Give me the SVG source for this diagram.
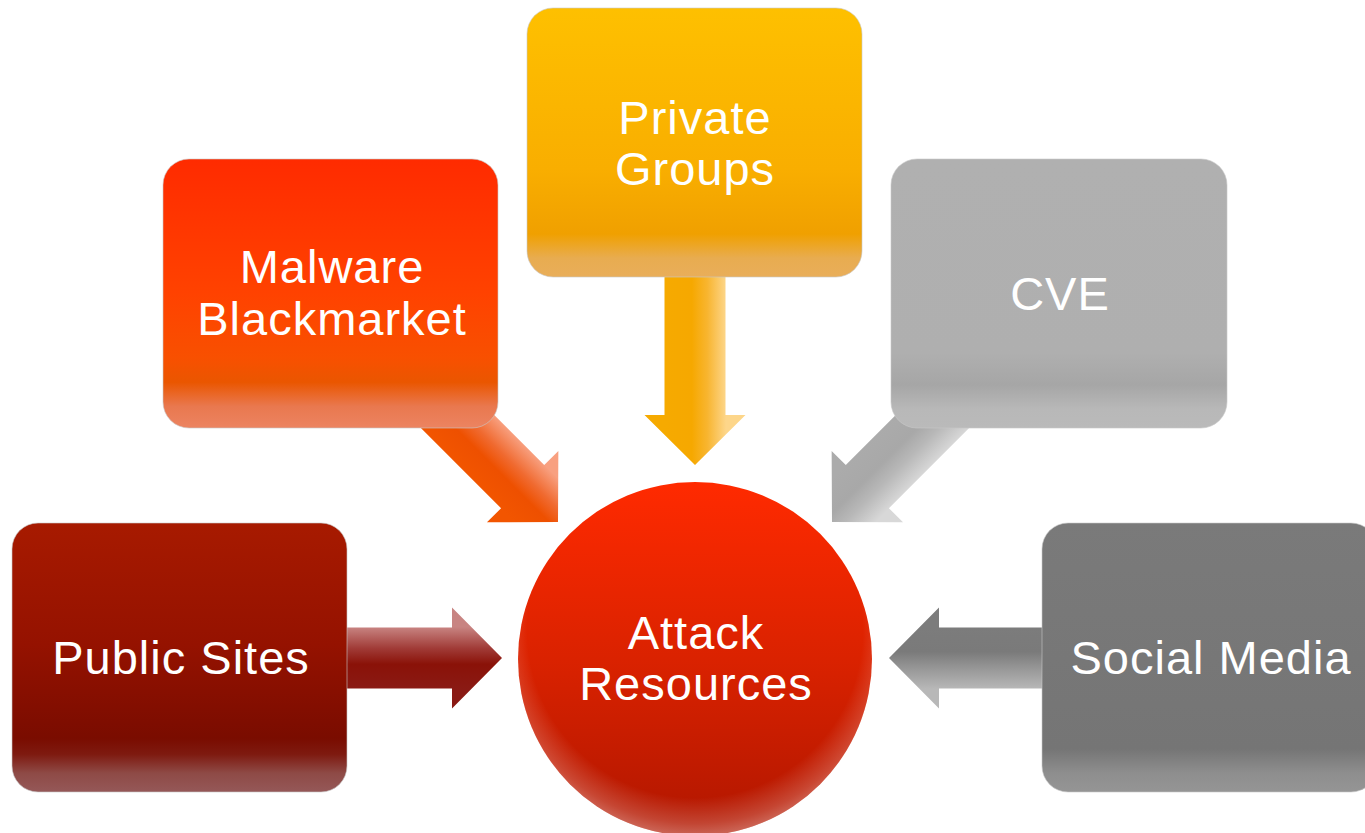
<svg xmlns="http://www.w3.org/2000/svg" width="1365" height="833" viewBox="0 0 1365 833">
  <style>
    .lbl { fill: #ffffff; font-family: "Liberation Sans", Arial, sans-serif; font-size: 47px; letter-spacing: 1px; text-anchor: middle; }
    .box { stroke: #c8c8c8; stroke-opacity: 0.6; stroke-width: 1; }
  </style>
  <defs>
    <linearGradient id="gPublic" x1="0" y1="0" x2="0" y2="1">
      <stop offset="0" stop-color="#A71A00"/>
      <stop offset="0.45" stop-color="#951200"/>
      <stop offset="0.8" stop-color="#7A0C00"/>
      <stop offset="0.86" stop-color="#7E1A10"/>
      <stop offset="0.93" stop-color="#8E4A46"/>
      <stop offset="1" stop-color="#955858"/>
    </linearGradient>
    <linearGradient id="gMalware" x1="0" y1="0" x2="0" y2="1">
      <stop offset="0" stop-color="#FF2B00"/>
      <stop offset="0.5" stop-color="#FF4200"/>
      <stop offset="0.74" stop-color="#F85000"/>
      <stop offset="0.83" stop-color="#EA5600"/>
      <stop offset="0.92" stop-color="#E9784F"/>
      <stop offset="1" stop-color="#EC8461"/>
    </linearGradient>
    <linearGradient id="gPrivate" x1="0" y1="0" x2="0" y2="1">
      <stop offset="0" stop-color="#FEC000"/>
      <stop offset="0.6" stop-color="#F9AE00"/>
      <stop offset="0.84" stop-color="#F0A000"/>
      <stop offset="0.93" stop-color="#E8AC50"/>
      <stop offset="1" stop-color="#E9AE5A"/>
    </linearGradient>
    <linearGradient id="gCve" x1="0" y1="0" x2="0" y2="1">
      <stop offset="0" stop-color="#B0B0B0"/>
      <stop offset="0.72" stop-color="#AFAFAF"/>
      <stop offset="0.84" stop-color="#A6A6A6"/>
      <stop offset="0.93" stop-color="#B8B8B8"/>
      <stop offset="1" stop-color="#BABABA"/>
    </linearGradient>
    <linearGradient id="gSocial" x1="0" y1="0" x2="0" y2="1">
      <stop offset="0" stop-color="#7A7A7A"/>
      <stop offset="0.84" stop-color="#757575"/>
      <stop offset="0.93" stop-color="#8E8E8E"/>
      <stop offset="1" stop-color="#959595"/>
    </linearGradient>
    <linearGradient id="gCircle" x1="0" y1="0" x2="0" y2="1">
      <stop offset="0" stop-color="#FF2A00"/>
      <stop offset="0.5" stop-color="#DA2200"/>
      <stop offset="1" stop-color="#B01600"/>
    </linearGradient>
    <radialGradient id="gRim" cx="695" cy="630" r="215" gradientUnits="userSpaceOnUse">
      <stop offset="0" stop-color="#ffffff" stop-opacity="0"/>
      <stop offset="0.78" stop-color="#ffffff" stop-opacity="0"/>
      <stop offset="0.9" stop-color="#ffffff" stop-opacity="0.2"/>
      <stop offset="1" stop-color="#ffffff" stop-opacity="0.45"/>
    </radialGradient>
    <linearGradient id="aPublic" x1="0" y1="-31" x2="0" y2="31" gradientUnits="userSpaceOnUse">
      <stop offset="0" stop-color="#C88482"/>
      <stop offset="0.35" stop-color="#A03A36"/>
      <stop offset="0.6" stop-color="#8A1208"/>
      <stop offset="1" stop-color="#8A1A14"/>
    </linearGradient>
    <linearGradient id="aPrivate" x1="0" y1="-31" x2="0" y2="31" gradientUnits="userSpaceOnUse">
      <stop offset="0" stop-color="#FDD68A"/>
      <stop offset="0.3" stop-color="#F8B530"/>
      <stop offset="0.55" stop-color="#F6A800"/>
      <stop offset="1" stop-color="#F6AA00"/>
    </linearGradient>
    <linearGradient id="aMalware" x1="0" y1="-31" x2="0" y2="31" gradientUnits="userSpaceOnUse">
      <stop offset="0" stop-color="#F8A080"/>
      <stop offset="0.35" stop-color="#F06A30"/>
      <stop offset="0.6" stop-color="#EE5000"/>
      <stop offset="1" stop-color="#F25500"/>
    </linearGradient>
    <linearGradient id="aCve" x1="0" y1="-31" x2="0" y2="31" gradientUnits="userSpaceOnUse">
      <stop offset="0" stop-color="#D8D8D8"/>
      <stop offset="0.35" stop-color="#B8B8B8"/>
      <stop offset="0.6" stop-color="#A8A8A8"/>
      <stop offset="1" stop-color="#ABABAB"/>
    </linearGradient>
    <linearGradient id="aSocial" x1="0" y1="-31" x2="0" y2="31" gradientUnits="userSpaceOnUse">
      <stop offset="0" stop-color="#B8B8B8"/>
      <stop offset="0.35" stop-color="#959595"/>
      <stop offset="0.6" stop-color="#7A7A7A"/>
      <stop offset="1" stop-color="#7C7C7C"/>
    </linearGradient>
  </defs>

  <g id="connectors">
    <path id="arrow-public" transform="translate(502,658)" fill="url(#aPublic)" d="M -160,-30.5 L -50,-30.5 L -50,-50.5 L 0,0 L -50,50.5 L -50,30.5 L -160,30.5 Z"/>
    <path id="arrow-social" transform="translate(889,658) rotate(180)" fill="url(#aSocial)" d="M -160,-30.5 L -50,-30.5 L -50,-50.5 L 0,0 L -50,50.5 L -50,30.5 L -160,30.5 Z"/>
    <path id="arrow-private" transform="translate(695,465) rotate(90)" fill="url(#aPrivate)" d="M -195,-30.5 L -50,-30.5 L -50,-50.5 L 0,0 L -50,50.5 L -50,30.5 L -195,30.5 Z"/>
    <path id="arrow-malware" transform="translate(558,522) rotate(45)" fill="url(#aMalware)" d="M -185,-30.5 L -50,-30.5 L -50,-50.5 L 0,0 L -50,50.5 L -50,30.5 L -185,30.5 Z"/>
    <path id="arrow-cve" transform="translate(832,522) rotate(135)" fill="url(#aCve)" d="M -185,-30.5 L -50,-30.5 L -50,-50.5 L 0,0 L -50,50.5 L -50,30.5 L -185,30.5 Z"/>
  </g>

  <g id="node-private">
    <rect class="box" x="527" y="8" width="335" height="269" rx="26" fill="url(#gPrivate)"/>
    <text class="lbl" x="695" y="134">Private</text>
    <text class="lbl" x="695" y="185">Groups</text>
  </g>
  <g id="node-malware">
    <rect class="box" x="163" y="159" width="335" height="269" rx="26" fill="url(#gMalware)"/>
    <text class="lbl" x="332" y="283">Malware</text>
    <text class="lbl" x="332" y="335">Blackmarket</text>
  </g>
  <g id="node-cve">
    <rect class="box" x="891" y="159" width="336" height="269" rx="26" fill="url(#gCve)"/>
    <text class="lbl" x="1060" y="310">CVE</text>
  </g>
  <g id="node-public">
    <rect class="box" x="12" y="523" width="335" height="269" rx="26" fill="url(#gPublic)"/>
    <text class="lbl" x="181" y="674">Public Sites</text>
  </g>
  <g id="node-social">
    <rect class="box" x="1042" y="523" width="335" height="269" rx="26" fill="url(#gSocial)"/>
    <text class="lbl" x="1211" y="674">Social Media</text>
  </g>
  <g id="node-attack">
    <circle cx="695" cy="659" r="177" fill="url(#gCircle)"/>
    <circle cx="695" cy="659" r="177" fill="url(#gRim)"/>
    <text class="lbl" x="696" y="649">Attack</text>
    <text class="lbl" x="696" y="700">Resources</text>
  </g>
</svg>
